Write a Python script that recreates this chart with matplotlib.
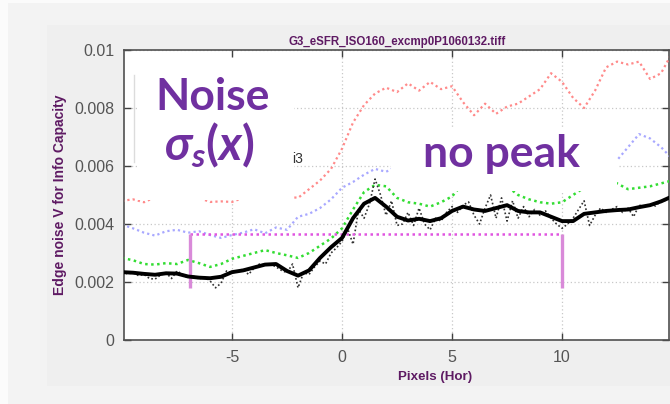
import numpy as np
import matplotlib
matplotlib.use("Agg")
import matplotlib.pyplot as plt
from matplotlib.patches import Rectangle
from matplotlib.lines import Line2D

# ---------------- data ----------------
x_coarse = [-10.0, -9.5, -9.0, -8.5, -8.0, -7.5, -7.0, -6.5, -6.0, -5.5,
            -5.0, -4.5, -4.0, -3.5, -3.0, -2.5, -2.0, -1.5, -1.0, -0.5,
            0.0, 0.5, 1.0, 1.5, 2.0, 2.5, 3.0, 3.5, 4.0, 4.5,
            5.0, 5.5, 6.0, 6.5, 7.0, 7.5, 8.0, 8.5, 9.0, 9.5,
            10.0, 10.5, 11.0, 11.5, 12.0, 12.5, 13.0, 13.5, 14.0, 14.5, 15.0]

noise_red = [0.00480, 0.00485, 0.00475, 0.00492, 0.00498, 0.00500, 0.00498, 0.00490, 0.00476, 0.00478,
             0.00476, 0.00490, 0.00495, 0.00498, 0.00500, 0.00495, 0.00490, 0.00520, 0.00550, 0.00590,
             0.00660, 0.00750, 0.00810, 0.00850, 0.00870, 0.00855, 0.00885, 0.00860, 0.00890, 0.00865,
             0.00875, 0.00820, 0.00775, 0.00815, 0.00780, 0.00805, 0.00815, 0.00840, 0.00865, 0.00920,
             0.00890, 0.00835, 0.00800, 0.00860, 0.00940, 0.00960, 0.00950, 0.00960, 0.00900, 0.00920, 0.00990]

noise_blue = [0.00398, 0.00385, 0.00370, 0.00360, 0.00375, 0.00380, 0.00370, 0.00375, 0.00362, 0.00352,
              0.00362, 0.00370, 0.00382, 0.00368, 0.00388, 0.00380, 0.00425, 0.00435, 0.00455, 0.00485,
              0.00525, 0.00545, 0.00570, 0.00590, 0.00580, 0.00600, 0.00615, 0.00625, 0.00635, 0.00645,
              0.00655, 0.00660, 0.00670, 0.00675, 0.00685, 0.00690, 0.00700, 0.00705, 0.00710, 0.00720,
              0.00690, 0.00665, 0.00640, 0.00610, 0.00600, 0.00620, 0.00665, 0.00710, 0.00695, 0.00665, 0.00625]

noise_green = [0.00283, 0.00275, 0.00262, 0.00260, 0.00265, 0.00262, 0.00276, 0.00265, 0.00252, 0.00262,
               0.00280, 0.00290, 0.00300, 0.00310, 0.00300, 0.00292, 0.00283, 0.00300, 0.00325, 0.00350,
               0.00385, 0.00450, 0.00510, 0.00535, 0.00530, 0.00490, 0.00475, 0.00470, 0.00460, 0.00475,
               0.00495, 0.00540, 0.00560, 0.00570, 0.00550, 0.00530, 0.00500, 0.00485, 0.00475, 0.00470,
               0.00475, 0.00500, 0.00525, 0.00550, 0.00560, 0.00540, 0.00520, 0.00525, 0.00530, 0.00540, 0.00550]

noise_smooth = [0.00234, 0.00232, 0.00228, 0.00225, 0.00230, 0.00229, 0.00219, 0.00215, 0.00213, 0.00218,
                0.00234, 0.00240, 0.00250, 0.00260, 0.00262, 0.00238, 0.00222, 0.00240, 0.00283, 0.00320,
                0.00352, 0.00420, 0.00470, 0.00490, 0.00460, 0.00425, 0.00412, 0.00418, 0.00410, 0.00420,
                0.00445, 0.00460, 0.00450, 0.00445, 0.00455, 0.00465, 0.00445, 0.00440, 0.00440, 0.00425,
                0.00410, 0.00410, 0.00435, 0.00440, 0.00445, 0.00448, 0.00450, 0.00458, 0.00465, 0.00478, 0.00495]

x_fine = [-10.00, -9.75, -9.50, -9.25, -9.00, -8.75, -8.50, -8.25, -8.00, -7.75,
          -7.50, -7.25, -7.00, -6.75, -6.50, -6.25, -6.00, -5.75, -5.50, -5.25,
          -5.00, -4.75, -4.50, -4.25, -4.00, -3.75, -3.50, -3.25, -3.00, -2.75,
          -2.50, -2.25, -2.00, -1.75, -1.50, -1.25, -1.00, -0.75, -0.50, -0.25,
          0.00, 0.25, 0.50, 0.75, 1.00, 1.25, 1.50, 1.75, 2.00, 2.25,
          2.50, 2.75, 3.00, 3.25, 3.50, 3.75, 4.00, 4.25, 4.50, 4.75,
          5.00, 5.25, 5.50, 5.75, 6.00, 6.25, 6.50, 6.75, 7.00, 7.25,
          7.50, 7.75, 8.00, 8.25, 8.50, 8.75, 9.00, 9.25, 9.50, 9.75,
          10.00, 10.25, 10.50, 10.75, 11.00, 11.25, 11.50, 11.75, 12.00, 12.25,
          12.50, 12.75, 13.00, 13.25, 13.50, 13.75, 14.00, 14.25, 14.50, 14.75, 15.00]

noise_raw = [0.00236, 0.00228, 0.00232, 0.00222, 0.00226, 0.00212, 0.00210, 0.00224, 0.00232, 0.00212,
             0.00238, 0.00226, 0.00214, 0.00220, 0.00210, 0.00218, 0.00204, 0.00180, 0.00196, 0.00238,
             0.00232, 0.00236, 0.00244, 0.00226, 0.00248, 0.00262, 0.00258, 0.00262, 0.00252, 0.00240,
             0.00232, 0.00262, 0.00180, 0.00232, 0.00226, 0.00252, 0.00272, 0.00262, 0.00300, 0.00318,
             0.00340, 0.00385, 0.00330, 0.00450, 0.00420, 0.00470, 0.00555, 0.00500, 0.00430, 0.00480,
             0.00395, 0.00400, 0.00440, 0.00395, 0.00455, 0.00400, 0.00380, 0.00420, 0.00410, 0.00440,
             0.00460, 0.00440, 0.00465, 0.00476, 0.00430, 0.00400, 0.00455, 0.00500, 0.00420, 0.00490,
             0.00410, 0.00480, 0.00420, 0.00460, 0.00425, 0.00450, 0.00430, 0.00445, 0.00420, 0.00400,
             0.00385, 0.00400, 0.00420, 0.00450, 0.00480, 0.00395, 0.00430, 0.00455, 0.00440, 0.00450,
             0.00460, 0.00440, 0.00455, 0.00425, 0.00465, 0.00460, 0.00470, 0.00462, 0.00480, 0.00482, 0.00500]

# flat-region marker: level and its two end positions
marker_level = 0.00366
marker_x = [-6.9, 10.0]
marker_drop = 0.00180

x_ticks = [-5, 0, 5, 10]
y_ticks = [0, 0.002, 0.004, 0.006, 0.008, 0.01]
y_tick_labels = ["0", "0.002", "0.004", "0.006", "0.008", "0.01"]

title_text = "G3_eSFR_ISO160_excmp0P1060132.tiff"
x_label = "Pixels (Hor)"
y_label = "Edge noise V for Info Capacity"

# ---------------- figure ----------------
W, H = 670, 404
plt.rcParams["mathtext.fontset"] = "custom"
plt.rcParams["mathtext.it"] = "Lato:italic:bold"
plt.rcParams["mathtext.rm"] = "Lato:bold"
plt.rcParams["mathtext.bf"] = "Lato:bold"

fig = plt.figure(figsize=(W / 100, H / 100), dpi=100)
fig.patch.set_facecolor("#fbfbfb")


def fx(px):
    return px / W


def fy(py):
    return 1 - py / H


# window backgrounds
fig.add_artist(Rectangle((fx(8), fy(404)), 1, fy(3) - fy(404), transform=fig.transFigure,
                         facecolor="#f3f3f3", edgecolor="none", zorder=-3))
fig.add_artist(Rectangle((fx(47), fy(386)), 1, fy(25) - fy(386), transform=fig.transFigure,
                         facecolor="#efefef", edgecolor="none", zorder=-2))

ax = fig.add_axes([fx(124), fy(340), fx(669) - fx(124), fy(50) - fy(340)])
ax.set_facecolor("white")

dot = (0, (1, 1.4))
ax.plot(x_coarse, noise_red, color="#ff8a8a", lw=1.6, ls=dot, zorder=3)
ax.plot(x_coarse, noise_blue, color="#a8a8ff", lw=1.6, ls=dot, zorder=3)
ax.plot(x_coarse, noise_green, color="#33dd33", lw=1.8, ls=dot, zorder=3)
ax.plot(x_fine, noise_raw, color="#303030", lw=1.2, ls=dot, zorder=4)
ax.plot(x_coarse, noise_smooth, color="black", lw=2.8, zorder=5)

ax.plot(marker_x, [marker_level, marker_level], color="#e055e0", lw=1.8, ls=dot, zorder=4)
for mx in marker_x:
    ax.plot([mx, mx], [marker_drop, marker_level], color="#d98ad9", lw=2.4, zorder=4,
            solid_capstyle="butt")

ax.set_xlim(-9.91, 14.86)
ax.set_ylim(0, 0.01)
ax.set_xticks(x_ticks)
ax.set_xticklabels([str(t) for t in x_ticks])
ax.set_yticks(y_ticks)
ax.set_yticklabels(y_tick_labels)
ax.grid(True, color="#c8c8c8", lw=0.9, ls=(0, (1, 2)))
ax.set_axisbelow(True)

for s in ax.spines.values():
    s.set_color("#505050")
    s.set_linewidth(1.2)
ax.tick_params(direction="in", length=5, width=1.0, color="#404040",
               top=True, right=True, labelsize=11.5, labelcolor="#555555", pad=7)
for lab in ax.get_xticklabels() + ax.get_yticklabels():
    lab.set_family("Liberation Sans")

purple_dark = "#5e1a63"
fig.text(fx(397), fy(45), title_text, ha="center", va="baseline", fontsize=8.3,
         fontweight="bold", color=purple_dark, family="Liberation Sans")
fig.text(fx(435), fy(377), x_label, ha="center", va="center", fontsize=9.6,
         fontweight="bold", color=purple_dark, family="Liberation Sans")
fig.text(fx(60), fy(195), y_label, ha="center", va="center", rotation=90, fontsize=10,
         fontweight="bold", color=purple_dark, family="Liberation Sans")

# partially hidden legend
fig.add_artist(Line2D([fx(134), fx(134)], [fy(75), fy(162)], transform=fig.transFigure,
                      color="#dcdcdc", lw=1.0, zorder=1))
fig.text(fx(292), fy(163), "i3", ha="left", va="baseline", fontsize=10, color="#333333",
         family="Liberation Sans", zorder=2)

# callout boxes with large annotations
fig.add_artist(Rectangle((fx(137), fy(200)), fx(294) - fx(137), fy(58) - fy(200),
                         transform=fig.transFigure, facecolor="white", edgecolor="none", zorder=2))
fig.add_artist(Rectangle((fx(391), fy(191)), fx(617) - fx(391), fy(127) - fy(191),
                         transform=fig.transFigure, facecolor="white", edgecolor="none", zorder=2))

callout = "#7030a0"
fig.text(fx(155), fy(110), "Noise", ha="left", va="baseline", fontsize=32,
         fontweight="bold", color=callout, family="Lato", zorder=3)
fig.text(fx(164), fy(160), r"$\sigma_s(x)$", ha="left", va="baseline", fontsize=34,
         color=callout, zorder=3)
fig.text(fx(423), fy(167), "no peak", ha="left", va="baseline", fontsize=32,
         fontweight="bold", color=callout, family="Lato", zorder=3)

fig.savefig("out.png", dpi=100, facecolor=fig.get_facecolor())
